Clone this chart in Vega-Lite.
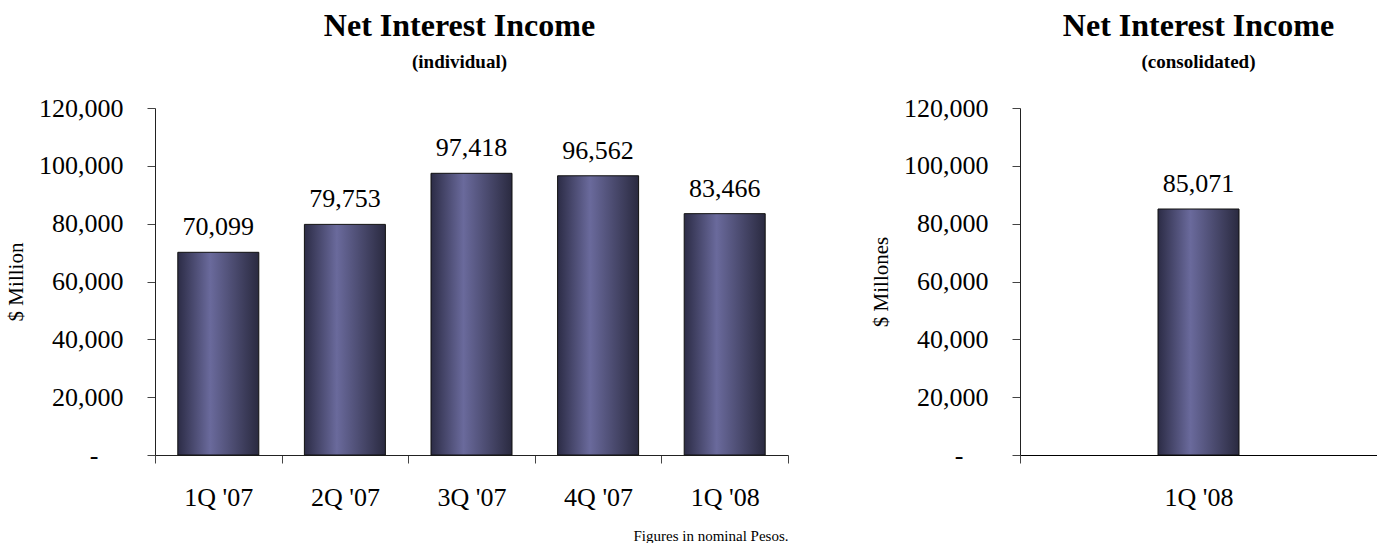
{
  "$schema": "https://vega.github.io/schema/vega-lite/v6.json",
  "background": "white",
  "padding": {"left": 5, "top": 10, "right": 0, "bottom": 0},
  "config": {
    "font": "Liberation Serif",
    "view": {"stroke": null},
    "axis": {"labelColor": "black", "titleColor": "black", "domainColor": "#222", "tickColor": "#444", "grid": false, "labelFont": "Liberation Serif", "titleFont": "Liberation Serif"},
    "title": {"font": "Liberation Serif", "color": "black", "subtitleColor": "black", "subtitleFont": "Liberation Serif"}
  },
  "datasets": {
    "individual": [
      {"quarter": "1Q '07", "value": 70099},
      {"quarter": "2Q '07", "value": 79753},
      {"quarter": "3Q '07", "value": 97418},
      {"quarter": "4Q '07", "value": 96562},
      {"quarter": "1Q '08", "value": 83466}
    ],
    "consolidated": [
      {"quarter": "1Q '08", "value": 85071}
    ]
  },
  "spacing": 81,
  "hconcat": [
    {
      "width": 633,
      "height": 347,
      "data": {"name": "individual"},
      "title": {"text": "Net Interest Income", "subtitle": "(individual)", "fontSize": 32, "fontWeight": "bold", "subtitleFontSize": 19, "subtitleFontWeight": "bold", "subtitlePadding": 10, "offset": 22, "dx": -12, "anchor": "middle"},
      "encoding": {
        "x": {"field": "quarter", "type": "nominal", "sort": null, "scale": {"padding": 0},
          "axis": {"title": "Figures in nominal Pesos.", "titleFontSize": 15, "titleFontWeight": "normal", "titleAnchor": "end", "titlePadding": 18, "labelAngle": 0, "labelFontSize": 26, "labelPadding": 21, "tickBand": "extent", "tickSize": 8, "domainColor": "#222"}},
        "y": {"field": "value", "type": "quantitative", "scale": {"domain": [0, 120000]},
          "axis": {"title": "$ Million", "titleFontSize": 21, "titleFontWeight": "normal", "titlePadding": 12, "values": [0, 20000, 40000, 60000, 80000, 100000, 120000], "labelFontSize": 26, "labelPadding": {"condition": {"test": "datum.value == 0", "value": 49}, "value": 24}, "tickSize": 8, "format": ",.0f", "labelExpr": "datum.value == 0 ? '-' : datum.label"}}
      },
      "layer": [
        {"mark": {"type": "bar", "size": 81, "stroke": "#111", "strokeWidth": 1,
          "color": {"gradient": "linear", "x1": 0, "y1": 0, "x2": 1, "y2": 0, "stops": [{"offset": 0, "color": "#2c2c46"}, {"offset": 0.4, "color": "#6a6a9c"}, {"offset": 1, "color": "#2a2a40"}]}}},
        {"mark": {"type": "text", "fontSize": 26, "baseline": "alphabetic", "dy": -17, "color": "black"},
          "encoding": {"text": {"field": "value", "type": "quantitative", "format": ",.0f"}}}
      ]
    },
    {
      "width": 357,
      "height": 347,
      "data": {"name": "consolidated"},
      "title": {"text": "Net Interest Income", "subtitle": "(consolidated)", "fontSize": 32, "fontWeight": "bold", "subtitleFontSize": 19, "subtitleFontWeight": "bold", "subtitlePadding": 10, "offset": 22, "anchor": "middle"},
      "encoding": {
        "x": {"field": "quarter", "type": "nominal", "scale": {"padding": 0},
          "axis": {"title": null, "labelAngle": 0, "labelFontSize": 26, "labelPadding": 21, "tickBand": "extent", "tickSize": 8, "domainColor": "black"}},
        "y": {"field": "value", "type": "quantitative", "scale": {"domain": [0, 120000]},
          "axis": {"title": "$ Millones", "titleFontSize": 21, "titleFontWeight": "normal", "titlePadding": 12, "values": [0, 20000, 40000, 60000, 80000, 100000, 120000], "labelFontSize": 26, "labelPadding": {"condition": {"test": "datum.value == 0", "value": 49}, "value": 24}, "tickSize": 8, "format": ",.0f", "labelExpr": "datum.value == 0 ? '-' : datum.label"}}
      },
      "layer": [
        {"mark": {"type": "bar", "size": 81, "stroke": "#111", "strokeWidth": 1,
          "color": {"gradient": "linear", "x1": 0, "y1": 0, "x2": 1, "y2": 0, "stops": [{"offset": 0, "color": "#2c2c46"}, {"offset": 0.4, "color": "#6a6a9c"}, {"offset": 1, "color": "#2a2a40"}]}}},
        {"mark": {"type": "text", "fontSize": 26, "baseline": "alphabetic", "dy": -17, "color": "black"},
          "encoding": {"text": {"field": "value", "type": "quantitative", "format": ",.0f"}}}
      ]
    }
  ]
}
